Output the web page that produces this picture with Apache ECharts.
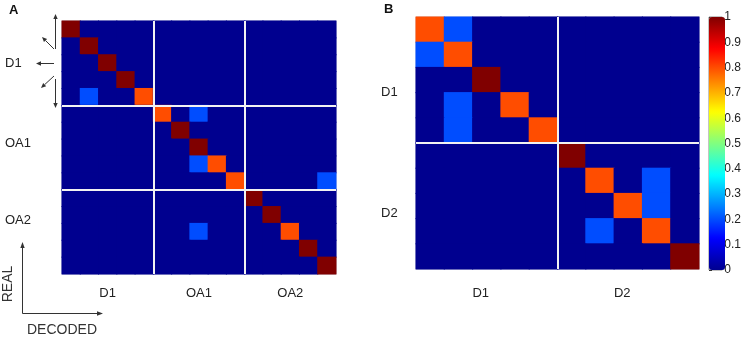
<!DOCTYPE html>
<html>
<head>
<meta charset="utf-8">
<script src="https://cdn.jsdelivr.net/npm/echarts@6/dist/echarts.min.js"></script>
<style>
  html, body { margin: 0; padding: 0; background: #fff; }
  #main { width: 744px; height: 338px; }
</style>
</head>
<body>
<div id="main"></div>
<script>
// 分组名称
var groupsA = ['D1', 'OA1', 'OA2'];
var groupsB = ['D1', 'D2'];
var groupSize = 5;

// 面板A 混淆矩阵 (行 = REAL, 列 = DECODED)
var matrixA = [
  [1, 0, 0, 0, 0,   0, 0, 0, 0, 0,   0, 0, 0, 0, 0],
  [0, 1, 0, 0, 0,   0, 0, 0, 0, 0,   0, 0, 0, 0, 0],
  [0, 0, 1, 0, 0,   0, 0, 0, 0, 0,   0, 0, 0, 0, 0],
  [0, 0, 0, 1, 0,   0, 0, 0, 0, 0,   0, 0, 0, 0, 0],
  [0, 0.2, 0, 0, 0.8, 0, 0, 0, 0, 0, 0, 0, 0, 0, 0],
  [0, 0, 0, 0, 0,   0.8, 0, 0.2, 0, 0, 0, 0, 0, 0, 0],
  [0, 0, 0, 0, 0,   0, 1, 0, 0, 0,   0, 0, 0, 0, 0],
  [0, 0, 0, 0, 0,   0, 0, 1, 0, 0,   0, 0, 0, 0, 0],
  [0, 0, 0, 0, 0,   0, 0, 0.2, 0.8, 0, 0, 0, 0, 0, 0],
  [0, 0, 0, 0, 0,   0, 0, 0, 0, 0.8, 0, 0, 0, 0, 0.2],
  [0, 0, 0, 0, 0,   0, 0, 0, 0, 0,   1, 0, 0, 0, 0],
  [0, 0, 0, 0, 0,   0, 0, 0, 0, 0,   0, 1, 0, 0, 0],
  [0, 0, 0, 0, 0,   0, 0, 0.2, 0, 0, 0, 0, 0.8, 0, 0],
  [0, 0, 0, 0, 0,   0, 0, 0, 0, 0,   0, 0, 0, 1, 0],
  [0, 0, 0, 0, 0,   0, 0, 0, 0, 0,   0, 0, 0, 0, 1]
];

// 面板B 混淆矩阵
var matrixB = [
  [0.8, 0.2, 0, 0, 0,   0, 0, 0, 0, 0],
  [0.2, 0.8, 0, 0, 0,   0, 0, 0, 0, 0],
  [0, 0, 1, 0, 0,       0, 0, 0, 0, 0],
  [0, 0.2, 0, 0.8, 0,   0, 0, 0, 0, 0],
  [0, 0.2, 0, 0, 0.8,   0, 0, 0, 0, 0],
  [0, 0, 0, 0, 0,       1, 0, 0, 0, 0],
  [0, 0, 0, 0, 0,       0, 0.8, 0, 0.2, 0],
  [0, 0, 0, 0, 0,       0, 0, 0.8, 0.2, 0],
  [0, 0, 0, 0, 0,       0, 0.2, 0, 0.8, 0],
  [0, 0, 0, 0, 0,       0, 0, 0, 0, 1]
];

// 色标刻度
var colorbarMin = 0;
var colorbarMax = 1;
var colorbarStep = 0.1;

function makeCategories(groups) {
  var out = [];
  groups.forEach(function (g) {
    for (var k = 1; k <= groupSize; k++) out.push(g + ' ' + k);
  });
  return out;
}

function toHeatData(m) {
  var d = [];
  for (var r = 0; r < m.length; r++) {
    for (var c = 0; c < m[r].length; c++) d.push([c, r, m[r][c]]);
  }
  return d;
}

var catsA = makeCategories(groupsA);
var catsB = makeCategories(groupsB);

var textColor = '#222';
var fontFam = 'Liberation Sans, Arial, sans-serif';

function groupLabel(v) { return v.split(' ')[0]; }
function midOfGroup(i) { return i % groupSize === 2; }

// y轴标签偏移 (负值向上)
var shiftRich = {
  n: { fontSize: 13, color: textColor, fontFamily: fontFam },
  u4: { fontSize: 13, color: textColor, fontFamily: fontFam, padding: [0, 0, 8, 0] },
  u11: { fontSize: 13, color: textColor, fontFamily: fontFam, padding: [0, 0, 22, 0] },
  d12: { fontSize: 13, color: textColor, fontFamily: fontFam, padding: [24, 0, 0, 0] },
  d7: { fontSize: 13, color: textColor, fontFamily: fontFam, padding: [14, 0, 0, 0] }
};
var shiftA = ['n', 'u4', 'u11'];
var shiftB = ['d12', 'd7'];

function arrow(x1, y1, x2, y2, head) {
  var dx = x2 - x1, dy = y2 - y1;
  var len = Math.sqrt(dx * dx + dy * dy);
  var ux = dx / len, uy = dy / len;
  var h = head || 5, w = 2.2;
  var bx = x2 - ux * h, by = y2 - uy * h;
  return [
    { type: 'line', z: 10, shape: { x1: x1, y1: y1, x2: bx, y2: by }, style: { stroke: '#333', lineWidth: 1 } },
    { type: 'polygon', z: 10, shape: { points: [[x2, y2], [bx - uy * w, by + ux * w], [bx + uy * w, by - ux * w]] }, style: { fill: '#333' } }
  ];
}

var graphics = []
  .concat(arrow(55.5, 49, 55.5, 14))
  .concat(arrow(54, 49, 42, 37))
  .concat(arrow(54, 63.5, 36, 63.5))
  .concat(arrow(54, 76, 41, 88))
  .concat(arrow(55.5, 79, 55.5, 108))
  .concat(arrow(22.5, 313.5, 22.5, 242, 6))
  .concat(arrow(22.5, 313.5, 103, 313.5, 6))
  .concat([
    { type: 'text', x: 8, y: 284, rotation: Math.PI / 2,
      style: { text: 'REAL', fill: '#333', font: '14px ' + fontFam, align: 'center', verticalAlign: 'middle' } },
    { type: 'text', x: 62, y: 330,
      style: { text: 'DECODED', fill: '#333', font: '14px ' + fontFam, align: 'center', verticalAlign: 'middle' } }
  ]);

var myChart = echarts.init(document.getElementById('main'));

function heatXAxis(gridIndex, cats, margin, padding) {
  return {
    type: 'category', gridIndex: gridIndex, data: cats,
    axisLine: { show: false }, axisTick: { show: false },
    axisLabel: {
      interval: function (i) { return midOfGroup(i); },
      formatter: groupLabel, margin: margin, color: textColor,
      fontSize: 13, fontFamily: fontFam, padding: padding || 0
    },
    splitLine: { show: false }, splitArea: { show: false }
  };
}

function heatYAxis(gridIndex, cats, margin, shifts) {
  return {
    type: 'category', gridIndex: gridIndex, data: cats, inverse: true,
    axisLine: { show: false }, axisTick: { show: false },
    axisLabel: {
      interval: function (i) { return midOfGroup(i); },
      formatter: function (v, i) {
        var g = Math.floor(i / groupSize);
        return '{' + shifts[g] + '|' + groupLabel(v) + '}';
      },
      rich: shiftRich, align: 'left', margin: margin
    },
    splitLine: { show: false }, splitArea: { show: false }
  };
}

// 分组分隔线: 叠加的数值轴, 只显示分隔线
function separatorAxis(gridIndex, groups) {
  return {
    type: 'value', gridIndex: gridIndex, z: 5,
    min: 0, max: groups.length * groupSize, interval: groupSize,
    axisLine: { show: false }, axisTick: { show: false }, axisLabel: { show: false },
    splitLine: { show: true, showMinLine: false, showMaxLine: false,
      lineStyle: { color: '#f2f2f2', width: 2 } }
  };
}

function renderCell(params, api) {
  var p = api.coord([api.value(0), api.value(1)]);
  var s = api.size([1, 1]);
  return {
    type: 'rect',
    shape: { x: p[0] - s[0] / 2 - 0.5, y: p[1] - s[1] / 2 - 0.5, width: s[0] + 1, height: s[1] + 1 },
    style: { fill: api.visual('color') }
  };
}

var option = {
  animation: false,
  title: [
    { text: 'A', left: 9, top: 4, padding: 0,
      textStyle: { fontSize: 13, fontWeight: 'bold', color: '#111', fontFamily: fontFam } },
    { text: 'B', left: 384, top: 3, padding: 0,
      textStyle: { fontSize: 13, fontWeight: 'bold', color: '#111', fontFamily: fontFam } }
  ],
  grid: [
    { left: 62, top: 21, width: 274, height: 253, show: true, borderColor: '#b8bcd0', borderWidth: 1 },
    { left: 416, top: 17, width: 283, height: 252, show: true, borderColor: '#b8bcd0', borderWidth: 1 },
    { left: 709, top: 17, width: 16, height: 253, show: true, borderColor: '#888', borderWidth: 1 }
  ],
  xAxis: [
    heatXAxis(0, catsA, 13),
    heatXAxis(1, catsB, 18, [0, 12, 0, 0]),
    { type: 'value', gridIndex: 2, show: false, min: 0, max: 1 },
    separatorAxis(0, groupsA),
    separatorAxis(1, groupsB)
  ],
  yAxis: [
    heatYAxis(0, catsA, 57, shiftA),
    heatYAxis(1, catsB, 35, shiftB),
    {
      type: 'value', gridIndex: 2, position: 'right',
      min: colorbarMin, max: colorbarMax, interval: colorbarStep,
      axisLine: { show: false },
      axisTick: { show: true, length: 3, lineStyle: { color: '#333' } },
      axisLabel: { margin: 2, color: textColor, fontSize: 12, fontFamily: fontFam },
      splitLine: { show: false }
    },
    separatorAxis(0, groupsA),
    separatorAxis(1, groupsB)
  ],
  visualMap: {
    type: 'continuous', min: colorbarMin, max: colorbarMax, dimension: 2,
    seriesIndex: [0, 1], calculable: false, show: true,
    left: 709, top: 17, itemWidth: 16, itemHeight: 253, padding: 0,
    inRange: {
      color: ['#00008F', '#0000FF', '#0080FF', '#00FFFF', '#80FF80',
              '#FFFF00', '#FF8000', '#FF0000', '#800000']
    }
  },
  graphic: graphics,
  series: [
    { name: 'A', type: 'custom', xAxisIndex: 0, yAxisIndex: 0, data: toHeatData(matrixA),
      renderItem: renderCell, encode: { x: 0, y: 1 } },
    { name: 'B', type: 'custom', xAxisIndex: 1, yAxisIndex: 1, data: toHeatData(matrixB),
      renderItem: renderCell, encode: { x: 0, y: 1 } }
  ]
};

myChart.setOption(option);
</script>
</body>
</html>
